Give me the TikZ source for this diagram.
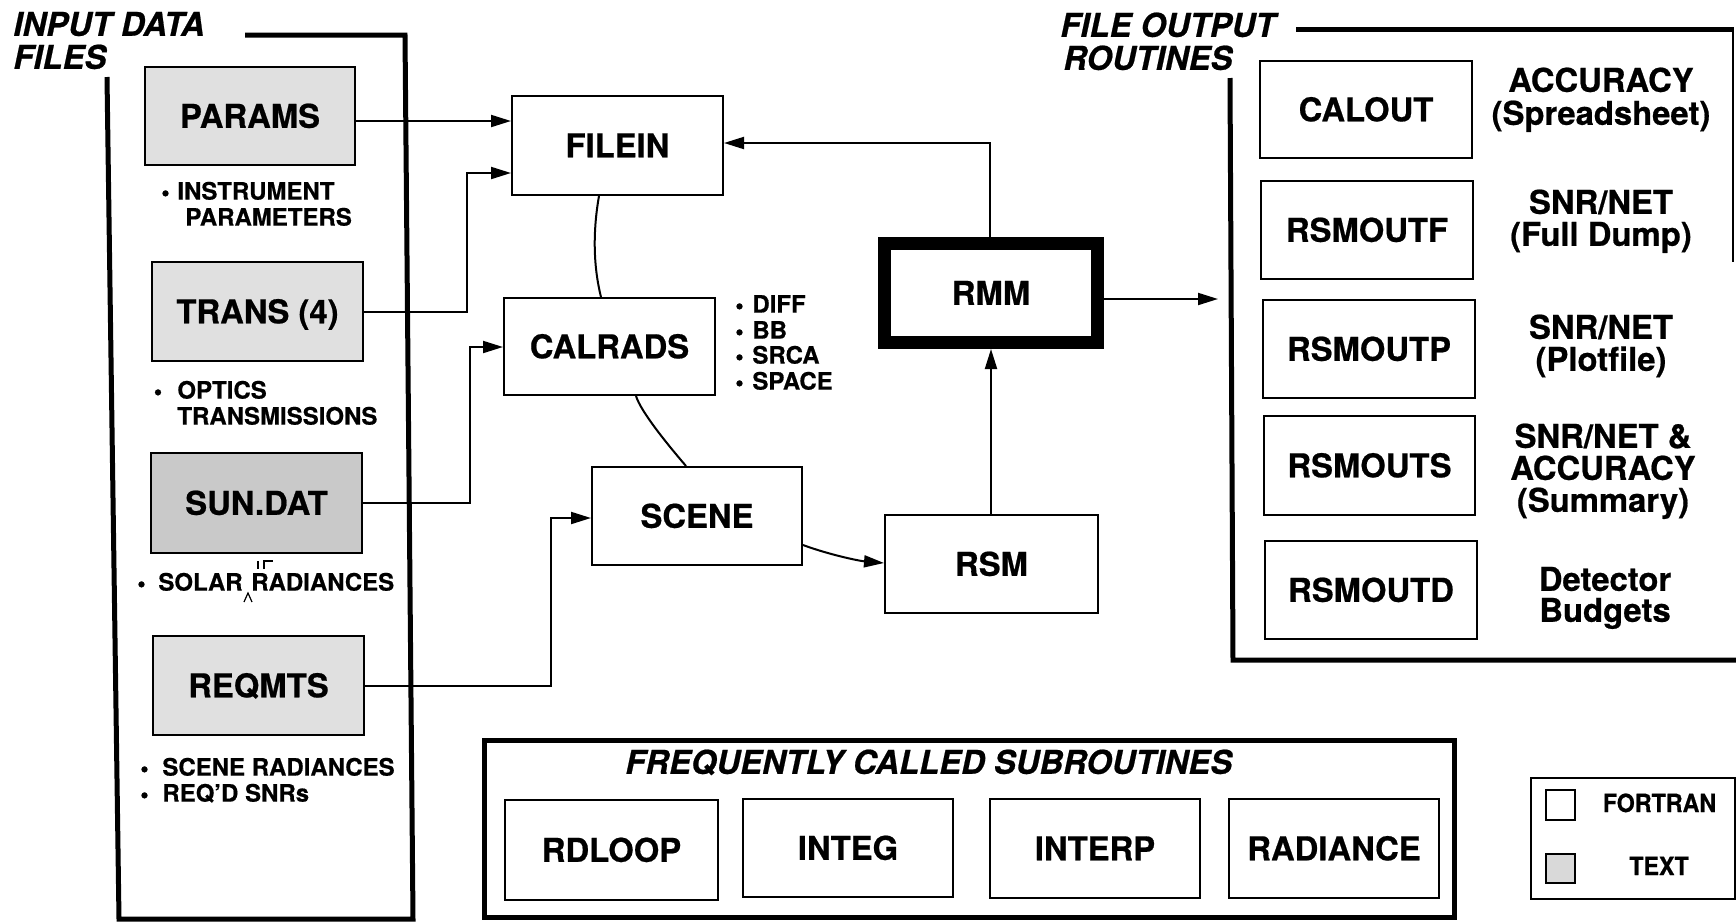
\documentclass[tikz,border=0pt]{standalone}
\usepackage{fontspec}
\setmainfont{TeX Gyre Heros}[BoldFeatures={FakeBold=0.6},BoldItalicFeatures={FakeBold=0.6}]
\newfontfamily\legfont{TeX Gyre Heros}[FakeStretch=0.93,BoldFeatures={FakeBold=0.6}]
\usetikzlibrary{arrows.meta}
\begin{document}
\begin{tikzpicture}[x=0.5pt,y=-0.5pt,
 bigtxt/.style={font=\bfseries\fontsize{16.4}{19}\selectfont, text height=11.8pt, text depth=0pt, inner sep=0pt},
 smalltxt/.style={font=\bfseries\fontsize{12}{14}\selectfont, text height=8.6pt, text depth=0pt, inner sep=0pt},
 headtxt/.style={font=\bfseries\itshape\fontsize{16.4}{19}\selectfont, text height=11.8pt, text depth=0pt, inner sep=0pt},
 legtxt/.style={font=\legfont\bfseries\fontsize{12.5}{14}\selectfont, text height=9pt, text depth=0pt, inner sep=0pt},
 fbox/.style={bigtxt, draw, line width=1pt, align=center},
 tbox/.style={fbox, fill=gray!24},
 conn/.style={line width=1pt},
 arr/.style={conn, -{Triangle[length=10pt,width=6pt]}},
 heavy/.style={line width=2.5pt, line join=miter, line cap=butt},
]
\useasboundingbox (0,0) rectangle (1736,922);

% ---- frames
\draw[heavy] (245,35) -- (405,35) -- (413,919) -- (119,919) -- (107,77);
\draw[heavy] (1296,29) -- (1734,29);
\draw[line width=1pt] (1733,29) -- (1733,262);
\draw[heavy] (1230,78) -- (1233,660) -- (1736,660);

% ---- headings
\node[headtxt, anchor=west] (inhead1) at (13,24) {INPUT DATA};
\node[headtxt, anchor=west] (inhead2) at (13,57) {FILES};
\node[headtxt, anchor=west] (outhead1) at (1060,25) {FILE OUTPUT};
\node[headtxt, anchor=west] (outhead2) at (1063,58) {ROUTINES};

% ---- input data files
\node[tbox, minimum width=105pt, minimum height=49pt] (params) at (250,116) {PARAMS};
\node[tbox, minimum width=105.5pt, minimum height=49.5pt] (trans) at (257.5,311.5) {TRANS (4)};
\node[tbox, fill=gray!42, minimum width=105.5pt, minimum height=50pt] (sun) at (256.5,503) {SUN.DAT};
\node[tbox, minimum width=105.5pt, minimum height=49.5pt] (reqmts) at (258.5,685.5) {REQMTS};

\node[smalltxt] (bi1) at (165.5,192) {•};
\node[smalltxt, anchor=west] (instr1) at (177,191) {INSTRUMENT};
\node[smalltxt, anchor=west] (instr2) at (185,217) {PARAMETERS};
\node[smalltxt] (bo1) at (158,391) {•};
\node[smalltxt, anchor=west] (optics1) at (177,390) {OPTICS};
\node[smalltxt, anchor=west] (optics2) at (177,416) {TRANSMISSIONS};
\node[smalltxt] (bs1) at (141.5,583) {•};
\node[smalltxt, anchor=west] (solar) at (158,582) {SOLAR\hspace{1pt} RADIANCES};
\node[smalltxt] (br1) at (144.5,768) {•};
\node[smalltxt, anchor=west] (scrad) at (162,767) {SCENE RADIANCES};
\node[smalltxt] (br2) at (144.5,794) {•};
\node[smalltxt, anchor=west] (reqsnr) at (162,793) {REQ'D SNRs};
% proofreading marks
\draw[line width=0.6pt] (244,602) -- (248,593) -- (252,602);
\draw[line width=0.7pt] (258,561) -- (258,569);
\draw[line width=0.7pt] (264,569) -- (264,561) -- (273,561);

% ---- middle routines
\node[fbox, minimum width=105.5pt, minimum height=49.5pt] (filein) at (617.5,145.5) {FILEIN};
\node[fbox, minimum width=105.5pt, minimum height=48.5pt] (calrads) at (609.5,346.5) {CALRADS};
\node[fbox, minimum width=105pt, minimum height=49pt] (scene) at (697,516) {SCENE};
\node[fbox, line width=6.5pt, minimum width=106.25pt, minimum height=49.5pt] (rmm) at (991,293) {RMM};
\node[fbox, minimum width=106.5pt, minimum height=49pt] (rsm) at (991.5,564) {RSM};

\node[smalltxt] (bd1) at (739.5,305) {•};
\node[smalltxt, anchor=west] (diff) at (752,304) {DIFF};
\node[smalltxt] (bd2) at (739.5,331) {•};
\node[smalltxt, anchor=west] (bb) at (752,330) {BB};
\node[smalltxt] (bd3) at (739.5,356) {•};
\node[smalltxt, anchor=west] (srca) at (752,355) {SRCA};
\node[smalltxt] (bd4) at (739.5,382) {•};
\node[smalltxt, anchor=west] (space) at (752,381) {SPACE};

% ---- output routines
\node[fbox, minimum width=106pt, minimum height=48.5pt] (calout) at (1366,109.5) {CALOUT};
\node[fbox, minimum width=106pt, minimum height=49pt] (rsmoutf) at (1367,230) {RSMOUTF};
\node[fbox, minimum width=106pt, minimum height=49pt] (rsmoutp) at (1369,349) {RSMOUTP};
\node[fbox, minimum width=105.5pt, minimum height=49.5pt] (rsmouts) at (1369.5,465.5) {RSMOUTS};
\node[fbox, minimum width=106pt, minimum height=49pt] (rsmoutd) at (1371,590) {RSMOUTD};

\node[bigtxt] (acc1) at (1601,80) {ACCURACY};
\node[bigtxt] (acc2) at (1601,113) {(Spreadsheet)};
\node[bigtxt] (snrf1) at (1601,202) {SNR/NET};
\node[bigtxt] (snrf2) at (1601,234) {(Full Dump)};
\node[bigtxt] (snrp1) at (1601,327) {SNR/NET};
\node[bigtxt] (snrp2) at (1601,359) {(Plotfile)};
\node[bigtxt] (sum1) at (1603,436) {SNR/NET \&};
\node[bigtxt] (sum2) at (1603,468) {ACCURACY};
\node[bigtxt] (sum3) at (1603,500) {(Summary)};
\node[bigtxt] (det1) at (1605,579) {Detector};
\node[bigtxt] (det2) at (1605,610) {Budgets};

% ---- frequently called subroutines
\node[draw, line width=2.5pt, minimum width=485pt, minimum height=88.5pt, inner sep=0pt] (subbox) at (969.5,829) {};
\node[headtxt, anchor=west] (subtitle) at (625,762) {FREQUENTLY CALLED SUBROUTINES};
\node[fbox, minimum width=106.5pt, minimum height=50pt] (rdloop) at (611.5,850) {RDLOOP};
\node[fbox, minimum width=105pt, minimum height=49pt] (integ) at (848,848) {INTEG};
\node[fbox, minimum width=105pt, minimum height=49.5pt] (interp) at (1095,848.5) {INTERP};
\node[fbox, minimum width=105pt, minimum height=49.5pt] (radiance) at (1334,848.5) {RADIANCE};

% ---- legend
\node[draw, line width=1pt, minimum width=102pt, minimum height=60.5pt, inner sep=0pt] (legend) at (1633,838.5) {};
\node[draw, line width=1pt, minimum width=14.5pt, minimum height=15pt, inner sep=0pt] (sqf) at (1560.5,805) {};
\node[draw, line width=1pt, fill=gray!30, minimum width=14.5pt, minimum height=14.5pt, inner sep=0pt] (sqt) at (1560.5,868.5) {};
\node[legtxt] (fortran) at (1659.5,803) {FORTRAN};
\node[legtxt] (textlbl) at (1659,866) {TEXT};

% ---- connectors
\draw[arr] (params.east |- 0,121) -- (filein.west |- 0,121);
\draw[arr] (trans.east) -| (467,173) -- (filein.west |- 0,173);
\draw[arr] (sun.east) -| (470,347) -- (calrads.west |- 0,347);
\draw[arr] (reqmts.east) -| (551,518) -- (scene.west |- 0,518);
\draw[conn] (filein.south -| 599,0) .. controls (593,230) and (593,265) .. (calrads.north -| 601,0);
\draw[conn] (calrads.south -| 636,0) .. controls (641,412) and (668,445) .. (scene.north -| 686,0);
\draw[arr] (scene.east |- 0,545) .. controls (830,555) and (860,561) .. (rsm.west |- 0,563);
\draw[arr] (rsm.north -| 991,0) -- (rmm.south -| 991,0);
\draw[arr] (rmm.north -| 990,0) |- (filein.east |- 0,143);
\coordinate (outin) at (1218,299);
\draw[arr] (rmm.east |- 0,299) -- (outin);
\end{tikzpicture}
\end{document}
